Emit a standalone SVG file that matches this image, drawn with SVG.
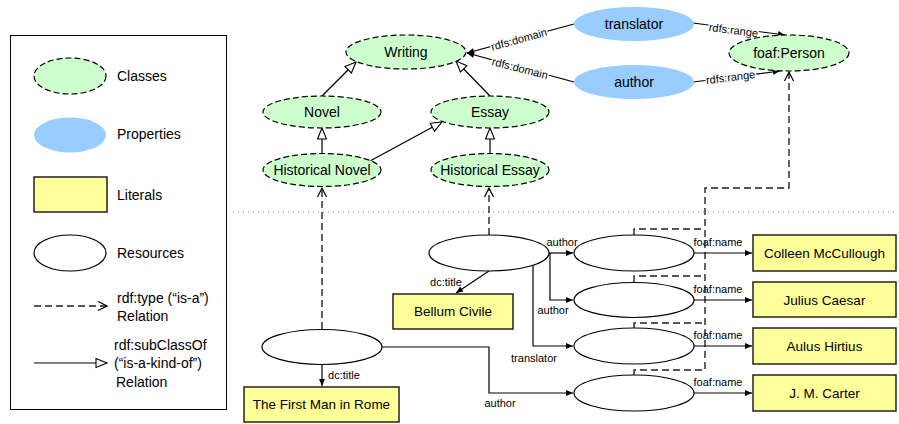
<svg xmlns="http://www.w3.org/2000/svg" width="899" height="424" viewBox="0 0 899 424">
<style>
text{font-family:"Liberation Sans",Arial,sans-serif;fill:#000}
.n{font-size:14px;text-anchor:middle}
.lg{font-size:14px}
.lit{font-size:13.5px;text-anchor:middle}
.s{font-size:11px}
.sm{font-size:11px;text-anchor:middle}
.halo{stroke:#fff;stroke-width:3;paint-order:stroke;stroke-linejoin:round}
.cls{fill:#ccffcc;stroke:#000;stroke-width:1.2;stroke-dasharray:6,3}
.prop{fill:#99ccff;stroke:none}
.res{fill:#fff;stroke:#000;stroke-width:1.2}
.litr{fill:#ffff99;stroke:#222;stroke-width:1.5}
.sub{fill:none;stroke:#000;stroke-width:1.2;marker-end:url(#tri)}
.typ{fill:none;stroke:#222;stroke-width:1.4;stroke-dasharray:7,4;marker-end:url(#chev)}
.typn{fill:none;stroke:#222;stroke-width:1.4;stroke-dasharray:7,4}
.rel{fill:none;stroke:#000;stroke-width:1.2;marker-end:url(#fill)}
</style>
<defs>
<marker id="tri" markerUnits="userSpaceOnUse" markerWidth="12" markerHeight="10" refX="11" refY="4.5" orient="auto" overflow="visible"><path d="M0,0 L11,4.5 L0,9 z" fill="#fff" stroke="#000" stroke-width="1.1"/></marker>
<marker id="chev" markerUnits="userSpaceOnUse" markerWidth="12" markerHeight="10" refX="9" refY="4.5" orient="auto" overflow="visible"><path d="M0,0 L9,4.5 L0,9" fill="none" stroke="#000" stroke-width="1.2"/></marker>
<marker id="fill" markerUnits="userSpaceOnUse" markerWidth="8" markerHeight="7" refX="7" refY="3" orient="auto" overflow="visible"><path d="M0,0 L7,3 L0,6 z" fill="#000"/></marker>
</defs>

<g id="legend">
<rect x="10.5" y="35.5" width="216" height="374" fill="#fff" stroke="#000" stroke-width="1"/>
<ellipse class="cls" cx="70" cy="76" rx="36" ry="18"/>
<text class="lg" x="117" y="81">Classes</text>
<ellipse class="prop" cx="70" cy="135" rx="36" ry="17.5"/>
<text class="lg" x="117" y="139">Properties</text>
<rect class="litr" x="34" y="177" width="73" height="35"/>
<text class="lg" x="117" y="200">Literals</text>
<ellipse class="res" cx="70" cy="253" rx="36" ry="18"/>
<text class="lg" x="117" y="258">Resources</text>
<path class="typ" d="M34,306 H107"/>
<text class="lg" x="117" y="303">rdf:type (“is-a”)</text>
<text class="lg" x="117" y="321">Relation</text>
<path class="sub" d="M34,363 H107"/>
<text class="lg" x="114" y="350">rdf:subClassOf</text>
<text class="lg" x="114" y="368">(“is-a-kind-of”)</text>
<text class="lg" x="116" y="387">Relation</text>
</g>

<line x1="233" y1="212" x2="896" y2="212" stroke="#777" stroke-width="1" stroke-dasharray="1,4"/>

<g id="connectors">
<path class="sub" d="M322,96 L356,62"/>
<path class="sub" d="M490,96 L456,61"/>
<path class="sub" d="M322,154 V128"/>
<path class="sub" d="M490,154 V128"/>
<path class="sub" d="M370,161 L442,122"/>
<path class="rel" d="M574,24 L467,53"/>
<path class="rel" d="M574,82 L467,53"/>
<path class="rel" d="M693,23 L785,35"/>
<path class="rel" d="M693,82 L780,71"/>
<path class="typ" d="M322,329 V188"/>
<path class="typ" d="M489,235 V188"/>
<path class="typn" d="M634,235 V229 H705"/>
<path class="typn" d="M634,282 V276 H705"/>
<path class="typn" d="M634,328 V323 H705"/>
<path class="typ" d="M634,375 V370 H705 V188 H789 V72"/>
<path class="rel" d="M489,271 L456,293"/>
<path class="rel" d="M322,364 V386"/>
<path class="rel" d="M549,253 H573"/>
<path class="rel" d="M550,253 V300 H573"/>
<path class="rel" d="M533,265 V346 H573"/>
<path class="rel" d="M382,347 H489 V393 H573"/>
<path class="rel" d="M694,253 H752"/>
<path class="rel" d="M694,300 H752"/>
<path class="rel" d="M694,346 H752"/>
<path class="rel" d="M694,393 H752"/>
<text class="sm halo" transform="translate(520,43) rotate(-15.4)">rdfs:domain</text>
<text class="sm halo" transform="translate(519,72) rotate(14.4)">rdfs:domain</text>
<text class="sm halo" transform="translate(733,34) rotate(7.4)">rdfs:range</text>
<text class="sm halo" transform="translate(731,81) rotate(-7.2)">rdfs:range</text>
<text class="sm" x="446" y="286">dc:title</text>
<text class="sm" x="344" y="379">dc:title</text>
<text class="sm" x="562" y="246">author</text>
<text class="sm" x="553" y="314">author</text>
<text class="sm" x="534" y="362">translator</text>
<text class="sm" x="500" y="407">author</text>
<text class="sm" x="718" y="245.5">foaf:name</text>
<text class="sm" x="718" y="292.5">foaf:name</text>
<text class="sm" x="718" y="338.5">foaf:name</text>
<text class="sm" x="718" y="385.5">foaf:name</text>
</g>

<g id="writing"><ellipse class="cls" cx="406" cy="52" rx="60" ry="17"/><text class="n" x="406" y="57">Writing</text></g>
<g id="novel"><ellipse class="cls" cx="322" cy="112" rx="59" ry="16"/><text class="n" x="322" y="117">Novel</text></g>
<g id="essay"><ellipse class="cls" cx="490" cy="112" rx="59" ry="16"/><text class="n" x="490" y="117">Essay</text></g>
<g id="historical-novel"><ellipse class="cls" cx="322" cy="170" rx="59" ry="16.5"/><text class="n" x="322" y="175">Historical Novel</text></g>
<g id="historical-essay"><ellipse class="cls" cx="490" cy="170" rx="59" ry="16.5"/><text class="n" x="490" y="175">Historical Essay</text></g>
<g id="translator"><ellipse class="prop" cx="634" cy="24" rx="60" ry="17"/><text class="n" x="634" y="29">translator</text></g>
<g id="author"><ellipse class="prop" cx="634" cy="82" rx="60" ry="17"/><text class="n" x="634" y="87">author</text></g>
<g id="foaf-person"><ellipse class="cls" cx="789" cy="53" rx="60" ry="18"/><text class="n" x="789" y="58">foaf:Person</text></g>

<g id="bellum-civile-res"><ellipse class="res" cx="489" cy="253" rx="60" ry="18"/></g>
<g id="first-man-res"><ellipse class="res" cx="322" cy="347" rx="60" ry="17.5"/></g>
<g id="mccullough-res"><ellipse class="res" cx="634" cy="253" rx="60" ry="18"/></g>
<g id="caesar-res"><ellipse class="res" cx="634" cy="300" rx="60" ry="17.5"/></g>
<g id="hirtius-res"><ellipse class="res" cx="634" cy="346" rx="60" ry="18"/></g>
<g id="carter-res"><ellipse class="res" cx="634" cy="393" rx="60" ry="18"/></g>

<g id="bellum-civile"><rect class="litr" x="393" y="294" width="120" height="35"/><text class="lit" x="453" y="316">Bellum Civile</text></g>
<g id="first-man"><rect class="litr" x="244" y="387" width="155" height="35"/><text class="lit" x="321.5" y="409">The First Man in Rome</text></g>
<g id="colleen"><rect class="litr" x="753" y="235" width="143" height="36"/><text class="lit" x="824.5" y="258">Colleen McCullough</text></g>
<g id="julius"><rect class="litr" x="753" y="282" width="143" height="35"/><text class="lit" x="824.5" y="304.5">Julius Caesar</text></g>
<g id="aulus"><rect class="litr" x="753" y="328" width="143" height="36"/><text class="lit" x="824.5" y="351">Aulus Hirtius</text></g>
<g id="carter"><rect class="litr" x="753" y="375" width="143" height="36"/><text class="lit" x="824.5" y="398">J. M. Carter</text></g>
</svg>
